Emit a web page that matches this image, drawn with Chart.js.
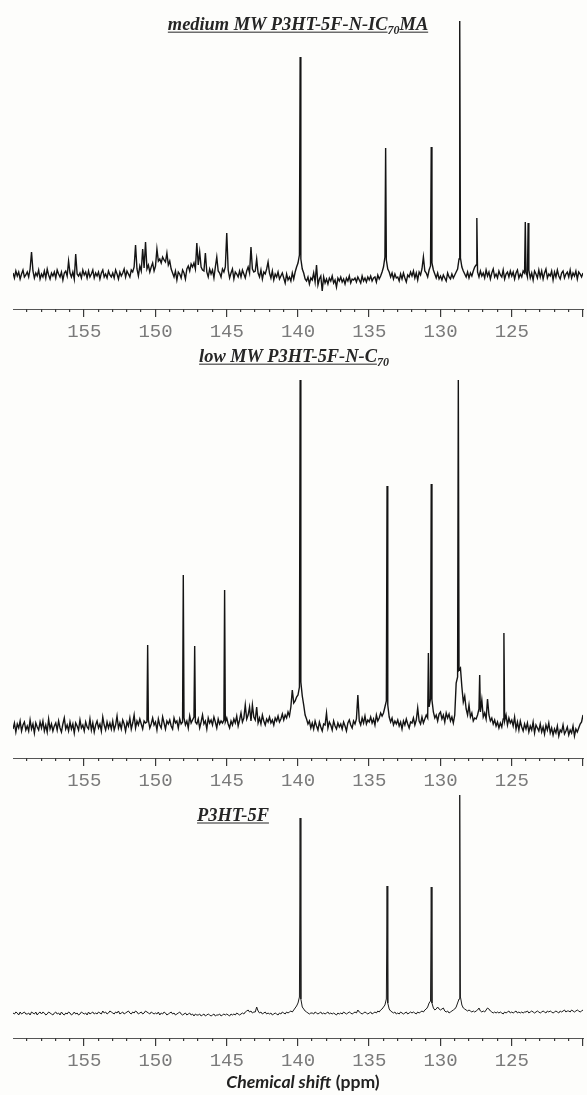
<!DOCTYPE html>
<html>
<head>
<meta charset="utf-8">
<title>13C NMR spectra</title>
<script src="https://cdn.jsdelivr.net/npm/chart.js@4"></script>
<style>
  html, body { margin: 0; padding: 0; background: #fdfdfb; }
  #wrap { position: relative; width: 587px; height: 1095px; overflow: hidden; }
  canvas { position: absolute; left: 0; }
  .ttl {
    position: absolute; transform: translate(-50%, -50%); white-space: nowrap;
    font-family: "Liberation Serif", serif; font-weight: bold; font-style: italic;
    font-size: 18.4px; color: #262626; text-decoration: underline; text-underline-offset: 2px;
  }
  .ttl sub { font-size: 12px; }
  #xtitle {
    position: absolute; left: 303px; top: 1081px; transform: translate(-50%, -50%);
    white-space: nowrap; font-family: Lato, sans-serif; font-weight: bold; font-size: 17.6px; color: #222;
  }
</style>
</head>
<body>
<div id="wrap">
  <canvas id="c1" width="587" height="345" style="top:0px;width:587px;height:345px"></canvas>
  <canvas id="c2" width="587" height="449" style="top:345px;width:587px;height:449px"></canvas>
  <canvas id="c3" width="587" height="284" style="top:790px;width:587px;height:284px"></canvas>
  <div class="ttl" style="left:298px;top:26px">medium MW P3HT-5F-N-IC<sub>70</sub>MA</div>
  <div class="ttl" style="left:294px;top:358px">low MW P3HT-5F-N-C<sub>70</sub></div>
  <div class="ttl" style="left:233px;top:815px">P3HT-5F</div>
  <div id="xtitle"><i>Chemical shift</i> (ppm)</div>
</div>

<script>
// chemical shift axis (ppm), trace sampled every 0.1 ppm from 160 down to 120
const ppmStart = 160;
const ppmStep = 0.1;
const axisMin = 120;
const axisMax = 160;
const tickLabels = [155, 150, 145, 140, 135, 130, 125];

// medium MW P3HT-5F-N-IC70MA : baseline trace and peaks
const noise1 = [
  2,-3,4,-1,3,-4,1,5,-2,0,
  3,-2,6,23,4,-3,2,-1,5,-4,
  1,-2,4,-3,6,0,-4,2,-1,3,
  -3,5,1,-2,3,-5,2,4,-1,14,
  2,-2,3,-4,21,1,-1,2,-3,5,
  0,3,-3,4,-2,1,5,-3,2,-1,
  3,-4,2,5,-2,1,-3,4,0,-2,
  2,-3,5,1,-4,3,-1,2,6,-2,
  4,1,-2,5,3,8,30,6,-1,9,
  4,26,7,33,6,10,3,8,12,4,
  9,26,14,16,12,18,15,13,22,10,
  14,6,2,-2,4,-5,3,1,-3,5,
  2,-4,6,9,4,11,8,12,6,32,
  10,23,8,5,4,22,3,-2,6,1,
  5,-3,8,18,4,2,-2,6,3,8,
  42,5,-3,2,6,-4,3,1,-2,4,
  -2,5,1,-3,4,8,2,28,6,3,
  4,16,2,-2,5,-4,3,1,6,13,
  2,-3,4,-5,1,-2,3,-4,-1,2,
  -3,-8,1,-5,-2,-6,2,-4,3,8,
  12,20,16,6,2,-4,-6,-2,-9,-3,
  -5,2,-7,10,-10,-4,-1,-16,-2,-8,
  -4,-9,-3,-6,-1,-8,-5,-12,-3,-6,
  -2,-7,-4,-9,-3,-6,-1,-8,-4,-5,
  -3,-7,-2,-5,-8,-1,-6,-3,-7,-2,
  -5,-1,-6,-3,-2,-7,0,-4,-1,3,
  8,18,15,6,3,-2,2,-4,1,-3,
  -2,-6,1,-4,2,-3,-7,0,-2,3,
  -1,4,-3,2,-5,3,0,6,18,4,
  2,-2,5,9,12,5,1,-3,2,-4,
  -1,-5,0,-3,-6,2,-2,-4,1,-3,
  0,3,6,16,17,8,4,1,-2,3,
  -3,2,-1,4,8,10,3,-2,4,-1,
  2,-3,5,-1,3,-4,2,6,-2,1,
  -3,4,0,-2,5,-4,1,3,-2,4,
  -1,3,-4,2,5,-3,1,-2,4,2,
  3,-2,5,-3,2,-5,4,1,-3,5,
  -2,4,-4,2,6,-3,1,-1,4,-5,
  3,-2,5,-1,-4,2,4,-3,1,3,
  -2,5,-3,2,-1,4,-4,3,1,-2,
  2
];
const peakPpm1 = [139.85, 133.85, 130.65, 128.65, 127.45, 124.05, 123.85];
const peakInt1 = [218, 127, 128, 254, 57, 53, 52];

// low MW P3HT-5F-N-C70
const noise2 = [
  -2,4,-5,3,-1,6,-4,2,5,-3,
  1,-4,7,-2,3,-6,4,0,-3,5,
  -1,6,-4,2,-5,8,-2,3,-4,1,
  4,-3,6,-1,-5,3,9,-2,2,-4,
  5,-2,3,-6,4,1,-3,7,-1,2,
  -4,5,0,-2,8,-3,4,-5,2,6,
  -1,3,-4,10,2,-3,5,-1,4,-2,
  6,-3,2,11,-1,4,-2,7,3,-4,
  5,1,9,-2,4,12,-1,6,2,8,
  3,-2,6,4,5,7,-1,3,9,2,
  5,-3,8,2,-1,10,4,-2,6,3,
  7,1,-2,9,4,6,-1,8,3,5,
  9,2,6,-1,11,4,7,10,5,3,
  8,-1,5,12,3,6,-2,9,4,7,
  2,10,5,-1,8,3,6,4,7,5,
  9,3,-1,6,2,8,4,11,1,7,
  14,5,9,22,8,12,20,6,22,10,
  7,20,4,9,3,12,6,2,8,5,
  10,4,7,2,9,6,11,5,8,13,
  7,12,9,15,11,20,37,24,26,30,
  32,40,45,31,22,12,8,3,6,-1,
  4,-2,6,1,-3,5,0,-4,3,2,
  14,-1,5,2,-3,6,1,-2,4,0,
  3,-2,5,1,-4,4,7,2,-1,6,
  3,8,32,6,2,9,4,11,3,7,
  5,10,4,8,2,12,6,9,14,11,
  14,20,26,22,10,5,9,2,6,3,
  7,1,5,-2,6,2,8,3,-1,5,
  4,9,2,7,19,6,3,10,4,8,
  12,9,20,28,27,15,9,12,6,13,
  15,8,12,5,14,9,13,6,10,4,
  12,44,50,57,59,40,25,31,18,12,
  22,10,14,6,9,8,12,18,15,27,
  10,14,8,28,12,6,9,3,7,1,
  5,-1,4,0,8,6,12,2,9,4,
  7,1,10,-2,5,-3,6,0,-4,3,
  -2,4,-5,1,-3,5,-6,2,-1,-4,
  3,-5,0,-7,2,-3,4,-6,-1,-8,
  -2,-6,1,-9,-3,-5,2,-7,-4,0,
  -8,-3,-6,1,-9,-2,-5,-1,3,5,
  12
];
const peakPpm2 = [150.55, 148.05, 147.25, 145.15, 139.85, 133.75, 130.85, 130.65, 128.75, 127.25, 125.55];
const peakInt2 = [82, 152, 81, 137, 347, 241, 74, 243, 347, 52, 94];

// P3HT-5F
const noise3 = [
  0,-1,1,0,-2,1,-1,0,1,-1,
  -1,0,-2,1,0,-1,1,-2,0,1,
  -1,1,0,-2,-1,1,0,-1,-2,0,
  1,-1,0,-2,1,-1,-2,0,-1,1,
  0,-2,-1,1,-1,0,-2,-1,1,0,
  -1,0,-2,1,-1,0,1,-1,0,-1,
  1,0,-1,2,0,1,-1,0,2,1,
  0,-1,1,0,2,-1,0,1,-1,0,
  1,2,0,-1,1,0,2,1,-1,0,
  1,-1,0,2,1,0,-1,1,0,-1,
  0,-1,1,-2,0,-1,1,0,-2,-1,
  0,1,-1,0,-2,-1,0,1,-1,-2,
  -1,0,-2,-1,0,-2,-1,-3,-1,-2,
  -2,-1,-3,-2,-1,-3,-2,-1,-2,-3,
  -2,-1,-3,-2,-2,-1,-3,-2,-1,-2,
  -1,-2,-3,-1,-2,-1,-2,0,-1,-2,
  -1,0,-1,1,2,3,1,2,0,1,
  1,6,2,0,1,-1,0,1,-1,0,
  -1,0,-2,-1,0,-1,-2,0,-1,1,
  0,-1,1,0,1,2,1,3,5,7,
  10,16,14,6,4,2,1,0,-1,0,
  0,-1,1,0,-1,0,1,-1,0,-1,
  0,1,-1,0,-1,0,-1,-2,0,-1,
  0,-1,1,0,-1,0,1,0,-1,0,
  1,0,3,1,0,-1,0,1,0,-1,
  0,1,-1,0,1,0,2,1,3,4,
  6,8,14,10,4,2,1,0,1,-1,
  0,-1,1,0,-1,0,1,-1,0,1,
  0,1,0,-1,1,0,1,2,1,3,
  4,6,10,12,10,5,3,4,6,4,
  3,4,5,2,1,2,0,1,2,3,
  4,6,10,14,16,8,5,4,3,2,
  3,2,1,2,1,2,3,5,2,1,
  2,1,3,5,4,2,1,0,1,0,
  1,0,1,0,-1,1,0,1,2,0,
  1,0,1,2,0,1,0,1,0,1,
  1,2,0,1,2,1,0,1,2,1,
  0,1,2,1,0,2,1,2,1,0,
  1,2,1,0,2,1,2,3,1,2,
  2,1,3,2,1,2,3,2,1,2,
  3
];
const peakPpm3 = [139.85, 133.75, 130.65, 128.65];
const peakInt3 = [195, 127, 126, 218];

function buildTrace(noise, peakPpm, peakInt) {
  const pts = noise.map((v, i) => ({ x: +(ppmStart - i * ppmStep).toFixed(2), y: v }));
  peakPpm.forEach((p, k) => pts.push({ x: p, y: peakInt[k] }));
  pts.sort((a, b) => b.x - a.x);
  return pts;
}

// minor ticks every 1 ppm (3 px), major every 5 ppm (8 px), hanging below the axis line
const tickMarks = {
  id: 'tickMarks',
  afterDraw(chart) {
    const xs = chart.scales.x;
    const ctx = chart.ctx;
    const y0 = Math.round(chart.chartArea.bottom);
    ctx.save();
    ctx.fillStyle = '#3a3a3a';
    for (let v = axisMin; v < axisMax; v++) {
      const x = Math.round(xs.getPixelForValue(v));
      const len = v % 5 === 0 ? 8 : 3;
      ctx.fillRect(x - 1, y0, 1.2, len);
    }
    ctx.restore();
  }
};

function makePanel(id, noise, peakPpm, peakInt, yMin, yMax, lineColor, lineWidth) {
  return new Chart(document.getElementById(id), {
    type: 'line',
    data: {
      datasets: [{
        data: buildTrace(noise, peakPpm, peakInt),
        borderColor: lineColor,
        borderWidth: lineWidth,
        pointRadius: 0,
        tension: 0,
        fill: false
      }]
    },
    options: {
      responsive: false,
      animation: false,
      events: [],
      layout: { padding: { left: 13, right: 1, top: 0, bottom: 0 } },
      plugins: { legend: { display: false }, tooltip: { enabled: false }, title: { display: false } },
      scales: {
        x: {
          type: 'linear',
          min: axisMin,
          max: axisMax,
          reverse: true,
          afterFit: (axis) => { axis.height = 36; },
          border: { display: true, color: '#555', width: 1 },
          grid: {
            drawOnChartArea: false,
            drawTicks: true,
            tickLength: 8,
            tickColor: 'rgba(0,0,0,0)'
          },
          ticks: {
            stepSize: 1,
            autoSkip: false,
            maxRotation: 0,
            padding: 4,
            color: '#7a7a7a',
            font: { family: 'Liberation Mono', size: 19 },
            callback: (v) => tickLabels.includes(v) ? String(v) : ''
          }
        },
        y: { display: false, min: yMin, max: yMax }
      }
    },
    plugins: [tickMarks]
  });
}

makePanel('c1', noise1, peakPpm1, peakInt1, -34, 275, '#141414', 1.4);
makePanel('c2', noise2, peakPpm2, peakInt2, -31, 382, '#141414', 1.4);
makePanel('c3', noise3, peakPpm3, peakInt3, -25, 223, '#1c1c1c', 1);
</script>
</body>
</html>
